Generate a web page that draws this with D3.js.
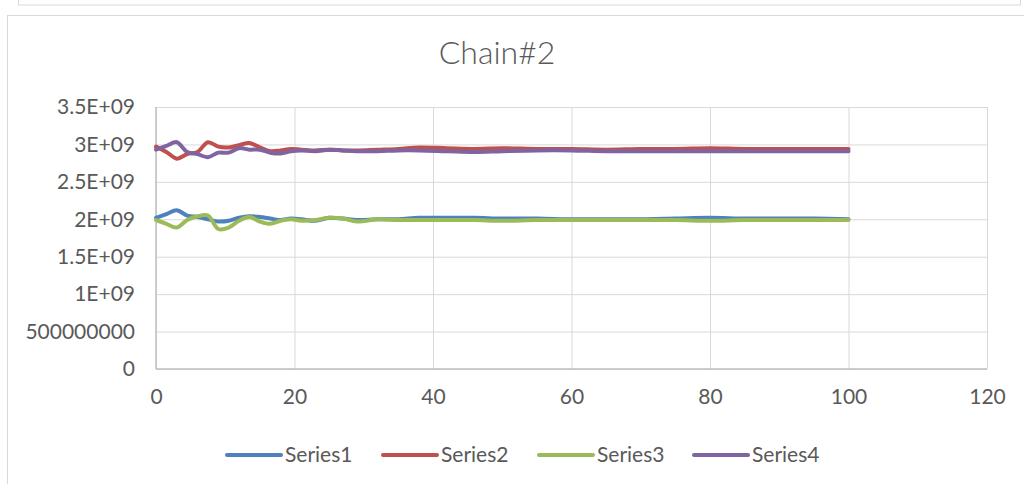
<html>
<head>
<script src="https://d3js.org/d3.v7.min.js"></script>
<style>
  body { margin: 0; background: #fff; }
  text { font-family: Lato, "Open Sans", sans-serif; fill: #595959; }
  .grid line { stroke: #d9d9d9; }
  .grid .domain { stroke: none; }
</style>
</head>
<body>
<svg id="chart" width="1024" height="484"></svg>
<script>
const xs = [0, 1.5, 3, 4.5, 6, 7.5, 9, 10.5, 12, 13.5, 15, 16.5, 18, 19.5, 21, 23, 25, 27, 29, 32, 35, 38, 42, 46, 50, 55, 60, 65, 70, 75, 80, 85, 90, 95, 100];

// values in units of 1E9
const series1 = [2.02, 2.07, 2.12, 2.05, 2.03, 2.00, 1.97, 1.98, 2.02, 2.04, 2.03, 2.01, 1.99, 2.01, 2.00, 1.98, 2.02, 2.01, 1.99, 2.00, 2.00, 2.02, 2.02, 2.02, 2.01, 2.01, 2.00, 2.00, 2.00, 2.01, 2.02, 2.01, 2.01, 2.01, 2.00];
const series2 = [2.97, 2.90, 2.81, 2.87, 2.90, 3.03, 2.97, 2.96, 2.99, 3.02, 2.96, 2.91, 2.92, 2.94, 2.93, 2.92, 2.93, 2.92, 2.92, 2.93, 2.94, 2.96, 2.95, 2.94, 2.95, 2.94, 2.94, 2.93, 2.94, 2.94, 2.95, 2.94, 2.94, 2.94, 2.94];
const series3 = [1.99, 1.94, 1.89, 1.99, 2.04, 2.05, 1.87, 1.89, 1.98, 2.03, 1.97, 1.94, 1.98, 2.00, 1.98, 1.99, 2.02, 2.01, 1.97, 2.00, 1.99, 1.99, 1.99, 1.99, 1.98, 1.99, 1.99, 1.99, 1.99, 1.99, 1.98, 1.99, 1.99, 1.99, 1.99];
const series4 = [2.93, 2.98, 3.03, 2.90, 2.87, 2.83, 2.89, 2.89, 2.95, 2.93, 2.93, 2.89, 2.88, 2.91, 2.92, 2.91, 2.93, 2.92, 2.91, 2.91, 2.92, 2.92, 2.91, 2.90, 2.91, 2.92, 2.92, 2.91, 2.91, 2.91, 2.91, 2.91, 2.91, 2.91, 2.91];

const seriesNames = ['Series1', 'Series2', 'Series3', 'Series4'];
const seriesColors = ['#4f81bd', '#c0504d', '#9bbb59', '#8064a2'];
const xTicks = [0, 20, 40, 60, 80, 100, 120];
const yTicks = [0, 0.5e9, 1e9, 1.5e9, 2e9, 2.5e9, 3e9, 3.5e9];
const yTickLabels = ['0', '500000000', '1E+09', '1.5E+09', '2E+09', '2.5E+09', '3E+09', '3.5E+09'];

const svg = d3.select('svg#chart');

// outer frames (the page shows a bit of the chart above)
svg.append('rect').attr('x', 18.5).attr('y', -10).attr('width', 1002).attr('height', 15)
  .attr('fill', 'none').attr('stroke', '#d9d9d9');
svg.append('rect').attr('x', 7.5).attr('y', 15.5).attr('width', 1030).attr('height', 480)
  .attr('fill', 'none').attr('stroke', '#d9d9d9');

const margins = {left: 156, right: 37, top: 107, bottom: 115};
const chartWidth = 1024 - margins.left - margins.right;
const chartHeight = 484 - margins.top - margins.bottom;

const xScale = d3.scaleLinear().domain([0, 120]).range([0, chartWidth]);
const yScale = d3.scaleLinear().domain([0, 3.5e9]).range([chartHeight, 0]);

const chartArea = svg.append('g')
  .attr('transform', `translate(${margins.left},${margins.top})`);

// gridlines
chartArea.append('g').attr('class', 'grid')
  .call(d3.axisLeft(yScale).tickValues(yTicks).tickSize(-chartWidth).tickFormat(''));
chartArea.append('g').attr('class', 'grid')
  .attr('transform', `translate(0,${chartHeight})`)
  .call(d3.axisBottom(xScale).tickValues(xTicks).tickSize(-chartHeight).tickFormat(''));

// axis lines
chartArea.append('line').attr('x1', 0).attr('x2', 0).attr('y1', 0).attr('y2', chartHeight)
  .attr('stroke', '#bfbfbf').attr('stroke-width', 1.5);
chartArea.append('line').attr('x1', 0).attr('x2', chartWidth).attr('y1', chartHeight).attr('y2', chartHeight)
  .attr('stroke', '#bfbfbf').attr('stroke-width', 1.5);

// tick labels
const leftAxis = chartArea.append('g')
  .call(d3.axisLeft(yScale).tickValues(yTicks).tickSize(0).tickPadding(21)
    .tickFormat((d, i) => yTickLabels[i]));
leftAxis.select('.domain').remove();
leftAxis.selectAll('text').style('font-size', '21px').attr('fill', '#595959');

const bottomAxis = chartArea.append('g')
  .attr('transform', `translate(0,${chartHeight})`)
  .call(d3.axisBottom(xScale).tickValues(xTicks).tickSize(0).tickPadding(20));
bottomAxis.select('.domain').remove();
bottomAxis.selectAll('text').style('font-size', '21px').attr('fill', '#595959');

// lines
const allSeries = [series1, series2, series3, series4];
const line = d3.line()
  .x((d, i) => xScale(xs[i]))
  .y(d => yScale(d * 1e9))
  .curve(d3.curveCatmullRom.alpha(0.5));

allSeries.forEach((s, k) => {
  chartArea.append('path')
    .datum(s)
    .attr('d', line)
    .attr('fill', 'none')
    .attr('stroke', seriesColors[k])
    .attr('stroke-width', 4)
    .attr('stroke-linejoin', 'round')
    .attr('stroke-linecap', 'round');
});

// title
svg.append('text')
  .attr('x', 497).attr('y', 64)
  .attr('text-anchor', 'middle')
  .style('font-size', '32px')
  .style('font-weight', 300)
  .text('Chain#2');

// legend
const legendX = [227, 383, 539, 694];
const legendY = 455;
seriesNames.forEach((name, k) => {
  const g = svg.append('g').attr('transform', `translate(${legendX[k]},${legendY})`);
  g.append('line').attr('x1', 0).attr('x2', 54).attr('y1', 0).attr('y2', 0)
    .attr('stroke', seriesColors[k]).attr('stroke-width', 4).attr('stroke-linecap', 'round');
  g.append('text').attr('x', 58).attr('y', 0).attr('dy', '0.35em')
    .style('font-size', '21px').text(name);
});
</script>
</body>
</html>
